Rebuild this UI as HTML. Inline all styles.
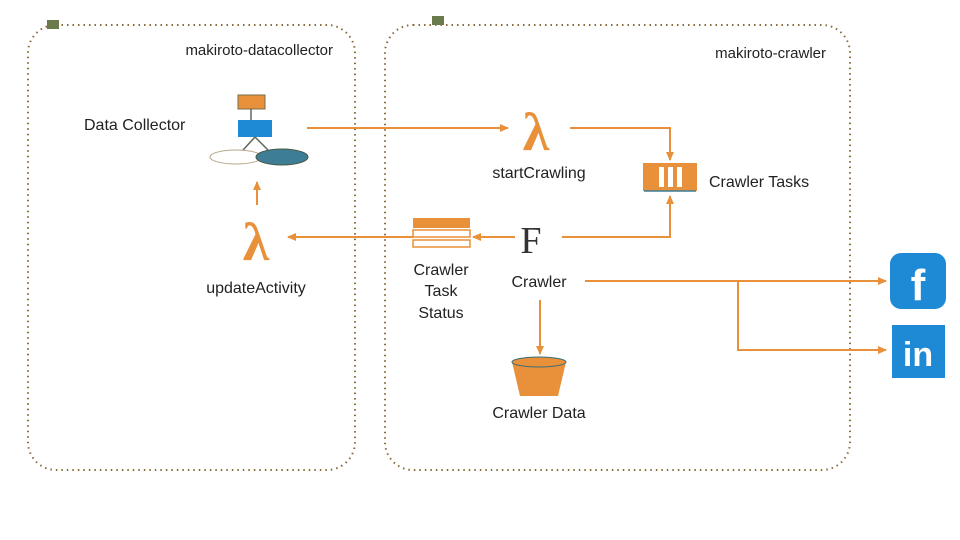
<!DOCTYPE html>
<html><head><meta charset="utf-8"><style>
html,body{margin:0;padding:0;background:#fff;width:960px;height:540px;overflow:hidden}
text{font-family:"Liberation Sans",sans-serif;fill:#222}
text.serif{font-family:"Liberation Serif",serif}
</style></head><body>
<svg width="960" height="540" viewBox="0 0 960 540" xmlns="http://www.w3.org/2000/svg">
<defs>
<marker id="a" markerWidth="10" markerHeight="10" refX="8" refY="4" orient="auto" markerUnits="userSpaceOnUse">
<path d="M0,0 L9,4 L0,8 z" fill="#e8913a"/></marker>
</defs>
<rect x="28" y="25" width="327" height="445" rx="28" fill="none" stroke="#8a6a3a" stroke-width="2" stroke-dasharray="1.5 4"/>
<rect x="385" y="25" width="465" height="445" rx="28" fill="none" stroke="#8a6a3a" stroke-width="2" stroke-dasharray="1.5 4"/>
<rect x="47" y="20" width="12" height="9" fill="#6a7a4a"/>
<rect x="432" y="16" width="12" height="9" fill="#6a7a4a"/>
<text x="333" y="55" font-size="15" text-anchor="end">makiroto-datacollector</text>
<text x="826" y="58" font-size="15" text-anchor="end">makiroto-crawler</text>
<g stroke="#e8913a" stroke-width="2" fill="none">
<line x1="307" y1="128" x2="508" y2="128" marker-end="url(#a)"/>
<polyline points="570,128 670,128 670,160" marker-end="url(#a)"/>
<polyline points="562,237 670,237 670,196" marker-end="url(#a)"/>
<line x1="515" y1="237" x2="473" y2="237" marker-end="url(#a)"/>
<line x1="413" y1="237" x2="288" y2="237" marker-end="url(#a)"/>
<line x1="257" y1="205" x2="257" y2="182" marker-end="url(#a)"/>
<line x1="585" y1="281" x2="886" y2="281" marker-end="url(#a)"/>
<polyline points="738,281 738,350 886,350" marker-end="url(#a)"/>
<line x1="540" y1="300" x2="540" y2="354" marker-end="url(#a)"/>
</g>
<rect x="238" y="95" width="27" height="14" fill="#e8913a" stroke="#7a6a4a"/>
<line x1="251" y1="109" x2="251" y2="120" stroke="#5a6a5a" stroke-width="1.5"/>
<rect x="238" y="120" width="34" height="17" fill="#1e8ad6"/>
<line x1="255" y1="137" x2="243" y2="150" stroke="#5a6a5a" stroke-width="1.5"/>
<line x1="255" y1="137" x2="268" y2="150" stroke="#5a6a5a" stroke-width="1.5"/>
<ellipse cx="236" cy="157" rx="26" ry="7" fill="#fff" stroke="#b8a888"/>
<ellipse cx="282" cy="157" rx="26" ry="8" fill="#3d7d96" stroke="#4a5a4a"/>
<text x="84" y="130" font-size="16">Data Collector</text>
<text class="serif" x="536" y="150" font-size="54" font-weight="bold" style="fill:#e8913a" text-anchor="middle">λ</text>
<text x="539" y="178" font-size="16" text-anchor="middle">startCrawling</text>
<text class="serif" x="256" y="260" font-size="54" font-weight="bold" style="fill:#e8913a" text-anchor="middle">λ</text>
<text x="256" y="293" font-size="16" text-anchor="middle">updateActivity</text>
<rect x="643" y="163" width="54" height="28" fill="#e8913a"/>
<rect x="659" y="167" width="5" height="20" fill="#fff"/>
<rect x="668" y="167" width="5" height="20" fill="#fff"/>
<rect x="677" y="167" width="5" height="20" fill="#fff"/>
<line x1="644" y1="191" x2="696" y2="191" stroke="#3d7d96" stroke-width="1.5"/>
<text x="709" y="187" font-size="16">Crawler Tasks</text>
<text class="serif" x="531" y="253" font-size="38" text-anchor="middle" style="fill:#333">F</text>
<text x="539" y="287" font-size="16" text-anchor="middle">Crawler</text>
<rect x="413" y="218" width="57" height="10" fill="#e8913a"/>
<rect x="413" y="230" width="57" height="7" fill="#fff" stroke="#e8913a" stroke-width="1.5"/>
<rect x="413" y="240" width="57" height="7" fill="#fff" stroke="#e8913a" stroke-width="1.5"/>
<text x="441" y="275" font-size="16" text-anchor="middle">Crawler</text>
<text x="441" y="296" font-size="16" text-anchor="middle">Task</text>
<text x="441" y="318" font-size="16" text-anchor="middle">Status</text>
<path d="M512,362 L520,396 L558,396 L566,362 z" fill="#e8913a"/>
<ellipse cx="539" cy="362" rx="27" ry="5" fill="#e8913a" stroke="#3d6d76"/>
<text x="539" y="418" font-size="16" text-anchor="middle">Crawler Data</text>
<rect x="890" y="253" width="56" height="56" rx="11" fill="#1e8ad6"/>
<text x="918" y="300" font-size="44" font-weight="bold" text-anchor="middle" style="fill:#fff">f</text>
<rect x="892" y="325" width="53" height="53" fill="#1e8ad6"/>
<text x="918" y="366" font-size="34" font-weight="bold" text-anchor="middle" style="fill:#fff">in</text>
</svg>
</body></html>
